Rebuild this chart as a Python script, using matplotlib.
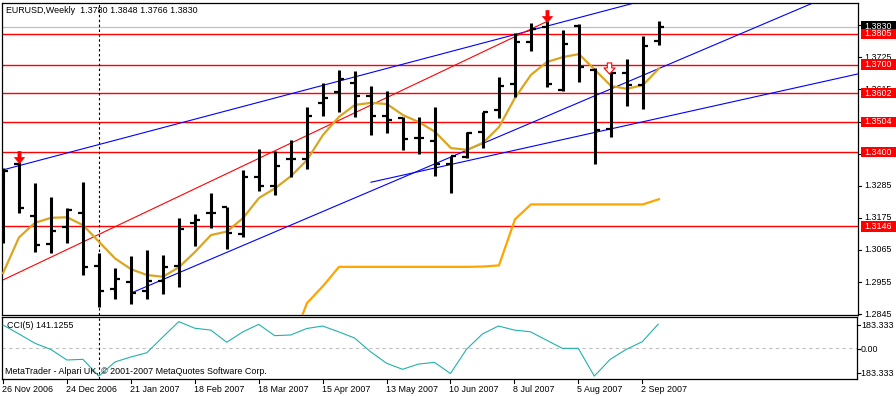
import numpy as np
import matplotlib
matplotlib.use("Agg")
import matplotlib.pyplot as plt
from matplotlib.path import Path
from matplotlib.collections import LineCollection
from matplotlib.patches import Rectangle
import matplotlib.transforms as mtransforms

plt.rcParams['font.family'] = ['Liberation Sans', 'DejaVu Sans']

# ---------------- data ----------------
bar_open = [1.3116, 1.3360, 1.3181, 1.3085, 1.3143, 1.3191, 1.3010, 1.2931, 1.2956, 1.2925,
            1.2960, 1.3010, 1.3158, 1.3190, 1.3213, 1.3120, 1.3316, 1.3285, 1.3376, 1.3377,
            1.3570, 1.3607, 1.3636, 1.3594, 1.3525, 1.3516, 1.3448, 1.3439, 1.3360, 1.3385,
            1.3470, 1.3545, 1.3634, 1.3779, 1.3830, 1.3613, 1.3832, 1.3682, 1.3478, 1.3670,
            1.3630, 1.3780]
bar_high = [1.3347, 1.3367, 1.3295, 1.3245, 1.3208, 1.3299, 1.3054, 1.3002, 1.3044, 1.3065,
            1.3048, 1.3173, 1.3188, 1.3261, 1.3213, 1.3339, 1.3411, 1.3404, 1.3442, 1.3554,
            1.3636, 1.3682, 1.3678, 1.3627, 1.3610, 1.3522, 1.3520, 1.3554, 1.3388, 1.3470,
            1.3539, 1.3659, 1.3807, 1.3842, 1.3850, 1.3819, 1.3838, 1.3687, 1.3676, 1.3719,
            1.3798, 1.3848]
bar_low = [1.3089, 1.3191, 1.3059, 1.3054, 1.3088, 1.2979, 1.2868, 1.2896, 1.2879, 1.2896,
           1.2913, 1.2939, 1.3079, 1.3141, 1.3068, 1.3110, 1.3268, 1.3253, 1.3316, 1.3341,
           1.3525, 1.3539, 1.3522, 1.3459, 1.3465, 1.3408, 1.3393, 1.3319, 1.3261, 1.3379,
           1.3413, 1.3517, 1.3590, 1.3748, 1.3624, 1.3610, 1.3642, 1.3360, 1.3451, 1.3559,
           1.3548, 1.3766]
bar_close = [1.3337, 1.3208, 1.3082, 1.3131, 1.3202, 1.3006, 1.2925, 1.2964, 1.2918, 1.2960,
             1.3008, 1.3137, 1.3168, 1.3192, 1.3122, 1.3316, 1.3285, 1.3354, 1.3378, 1.3524,
             1.3587, 1.3651, 1.3594, 1.3525, 1.3510, 1.3444, 1.3447, 1.3360, 1.3388, 1.3467,
             1.3539, 1.3628, 1.3779, 1.3822, 1.3634, 1.3771, 1.3693, 1.3476, 1.3672, 1.3630,
             1.3764, 1.3830]

ma_values = [1.2985, 1.3108, 1.3158, 1.3175, 1.3177, 1.3150, 1.3093, 1.3036, 1.2999, 1.2979,
             1.2973, 1.3006, 1.3058, 1.3116, 1.3128, 1.3174, 1.3243, 1.3276, 1.3318, 1.3373,
             1.3459, 1.3521, 1.3562, 1.3569, 1.3565, 1.3527, 1.3503, 1.3470, 1.3414, 1.3408,
             1.3432, 1.3486, 1.3586, 1.3665, 1.3709, 1.3726, 1.3736, 1.3682, 1.3627, 1.3617,
             1.3630, 1.3687]

stop_bars = list(range(18, 42))
stop_values = [1.2739, 1.2883, 1.2941, 1.3007, 1.3007, 1.3007, 1.3007, 1.3007, 1.3007, 1.3007,
               1.3007, 1.3007, 1.3008, 1.3012, 1.3170, 1.3221, 1.3221, 1.3221, 1.3221, 1.3221,
               1.3221, 1.3221, 1.3221, 1.3239]

cci_values = [136, 83, 28, -9, -71, -67, -166, -83, -53, -28,
              65, 156, 117, 106, 34, 95, 140, 73, 77, 115,
              130, 96, 59, -22, -90, -126, -95, -85, -151, -8,
              83, 130, 106, 96, 47, -2, -2, -166, -67, -8,
              37, 141.1255]

level_prices = [1.3805, 1.3700, 1.3602, 1.3504, 1.3400, 1.3146]
level_labels = ["1.3805", "1.3700", "1.3602", "1.3504", "1.3400", "1.3146"]
bid_price = 1.3830
bid_label = "1.3830"

price_ticks = [1.2845, 1.2955, 1.3065, 1.3175, 1.3285, 1.3395, 1.3505, 1.3615, 1.3725, 1.3835]

# trend lines: (bar_start, price_start, bar_end, price_end)
trend_blue_upper = [-0.5, 1.3332, 40.0, 1.3919]
trend_red = [-0.5, 1.2949, 34.0, 1.3848]
trend_blue_mid = [8.0, 1.2917, 54.0, 1.3990]
trend_blue_low = [23.0, 1.3297, 54.0, 1.3675]

arrow_filled_bars = [1, 34]
arrow_filled_prices = [1.3382, 1.3867]
arrow_hollow_bars = [37.9]
arrow_hollow_prices = [1.3690]

vline_bar = 6

date_bars = [0, 4, 8, 12, 16, 20, 24, 28, 32, 36, 40]
date_labels = ["26 Nov 2006", "24 Dec 2006", "21 Jan 2007", "18 Feb 2007", "18 Mar 2007",
               "15 Apr 2007", "13 May 2007", "10 Jun 2007", "8 Jul 2007", "5 Aug 2007",
               "2 Sep 2007"]

cci_axis_labels = ["183.333", "0.00", "-183.333"]

title_text = "EURUSD,Weekly  1.3780 1.3848 1.3766 1.3830"
cci_title = "CCI(5) 141.1255"
copyright_text = "MetaTrader - Alpari UK, \u00a9 2001-2007 MetaQuotes Software Corp."

# ---------------- figure ----------------
W, H = 896, 396
fig = plt.figure(figsize=(W / 100, H / 100), dpi=100)
fig.patch.set_facecolor('white')

FS = 6.4

def fx(px):
    return px / W

def fy(py):
    return 1 - py / H

ax = fig.add_axes([fx(2), fy(315), fx(856), 312 / H])
ax2 = fig.add_axes([fx(2), fy(379), fx(855), 62 / H])

n = len(bar_open)
xb = np.arange(n)

ax.set_xlim(-0.0625, 53.44)
ax.set_ylim(1.28420, 1.39112)
ax2.set_xlim(-0.0625, 53.44)
ax2.set_ylim(-183.333, 183.333)

for a in (ax, ax2):
    a.set_xticks([])
    a.set_yticks([])
    for s in a.spines.values():
        s.set_linewidth(0.9)
        s.set_color('black')

# horizontal levels
for p in level_prices:
    ax.axhline(p, color='#FF0000', lw=1.0, zorder=1)
ax.axhline(bid_price, color='#C0C0C0', lw=0.9, zorder=1)

# vertical dashed line
for a in (ax, ax2):
    a.axvline(vline_bar, color='black', lw=0.8, ls=(0, (2.2, 2.2)), zorder=1)

# trend lines
for tl, col in ((trend_blue_upper, '#0000FF'), (trend_red, '#FF0000'),
                (trend_blue_mid, '#0000FF'), (trend_blue_low, '#0000FF')):
    ax.plot([tl[0], tl[2]], [tl[1], tl[3]], color=col, lw=0.8, zorder=2)

# stop line and MA
ax.plot(stop_bars, stop_values, color='#FFA500', lw=1.6, zorder=3)
ax.plot(xb, ma_values, color='#DAA520', lw=1.6, zorder=3)

# OHLC bars
tw = 5 / 16
vsegs = [[(xb[i], bar_low[i]), (xb[i], bar_high[i])] for i in range(n)]
tsegs = [[(xb[i] - tw, bar_open[i]), (xb[i], bar_open[i])] for i in range(n)] + \
        [[(xb[i], bar_close[i]), (xb[i] + tw, bar_close[i])] for i in range(n)]
ax.add_collection(LineCollection(vsegs, colors='black', linewidths=2.2, capstyle='butt', zorder=4))
ax.add_collection(LineCollection(tsegs, colors='black', linewidths=1.6, capstyle='butt', zorder=4))

# arrows
filled_arrow = Path([(-0.13, 0.5), (0.13, 0.5), (0.13, 0.0), (0.42, 0.0), (0.0, -0.5),
                     (-0.42, 0.0), (-0.13, 0.0), (-0.13, 0.5)],
                    [Path.MOVETO] + [Path.LINETO] * 6 + [Path.CLOSEPOLY])
hollow_arrow = Path([(-0.2, 0.5), (0.2, 0.5), (0.2, 0.05), (0.5, 0.05), (0.0, -0.5),
                     (-0.5, 0.05), (-0.2, 0.05), (-0.2, 0.5)],
                    [Path.MOVETO] + [Path.LINETO] * 6 + [Path.CLOSEPOLY])
ax.plot(arrow_filled_bars, arrow_filled_prices, ls='none', marker=filled_arrow,
        markersize=8.6, markerfacecolor='#FF0000', markeredgecolor='#FF0000',
        markeredgewidth=0.5, zorder=6)
ax.plot(arrow_hollow_bars, arrow_hollow_prices, ls='none', marker=hollow_arrow,
        markersize=8.0, markerfacecolor='white', markeredgecolor='#FF0000',
        markeredgewidth=0.8, zorder=6)

# title
fig.text(fx(6), fy(10.5), title_text, fontsize=FS, va='center', ha='left')

# right price axis
trans_main = mtransforms.blended_transform_factory(fig.transFigure, ax.transData)
for p in price_ticks:
    ax.plot([fx(858), fx(861)], [p, p], color='black', lw=0.8, transform=trans_main,
            clip_on=False, zorder=5)
    ax.text(fx(864), p, "%.4f" % p, fontsize=FS, va='center', ha='left',
            transform=trans_main, clip_on=False, zorder=5)

box_h = 10.5 * 0.0003427
ax.add_patch(Rectangle((fx(861), bid_price - box_h / 2), fx(35), box_h, transform=trans_main,
                       facecolor='black', edgecolor='none', clip_on=False, zorder=8))
ax.text(fx(864), bid_price, bid_label, fontsize=FS, va='center', ha='left', color='white',
        transform=trans_main, clip_on=False, zorder=9)
for p, lab in zip(level_prices, level_labels):
    ax.add_patch(Rectangle((fx(861), p - box_h / 2), fx(35), box_h, transform=trans_main,
                           facecolor='#FF0000', edgecolor='none', clip_on=False, zorder=10))
    ax.text(fx(864), p, lab, fontsize=FS, va='center', ha='left', color='white',
            transform=trans_main, clip_on=False, zorder=11)

# CCI panel
ax2.axhline(0, color='#C0C0C0', lw=0.8, ls=(0, (3, 3)), zorder=1)
ax2.plot(xb, cci_values, color='#20B2AA', lw=0.8, zorder=3)
fig.text(fx(7), fy(326), cci_title, fontsize=FS, va='center', ha='left')
fig.text(fx(5), fy(371), copyright_text, fontsize=FS, va='center', ha='left')

for lab, px, py in zip(cci_axis_labels, (861, 861, 858.5), (325, 349, 373)):
    fig.text(fx(px), fy(py), lab, fontsize=FS, va='center', ha='left')
    fig.add_artist(plt.Line2D([fx(857), fx(860)], [fy(py), fy(py)], color='black', lw=0.8))

# date axis
trans_date = mtransforms.blended_transform_factory(ax2.transData, fig.transFigure)
for b, lab in zip(date_bars, date_labels):
    ax2.plot([b, b], [fy(379), fy(383)], color='black', lw=0.8, transform=trans_date,
             clip_on=False)
    ax2.text(b - 0.06, fy(389), lab, fontsize=FS, va='center', ha='left',
             transform=trans_date, clip_on=False)

fig.savefig("out.png", dpi=100)
